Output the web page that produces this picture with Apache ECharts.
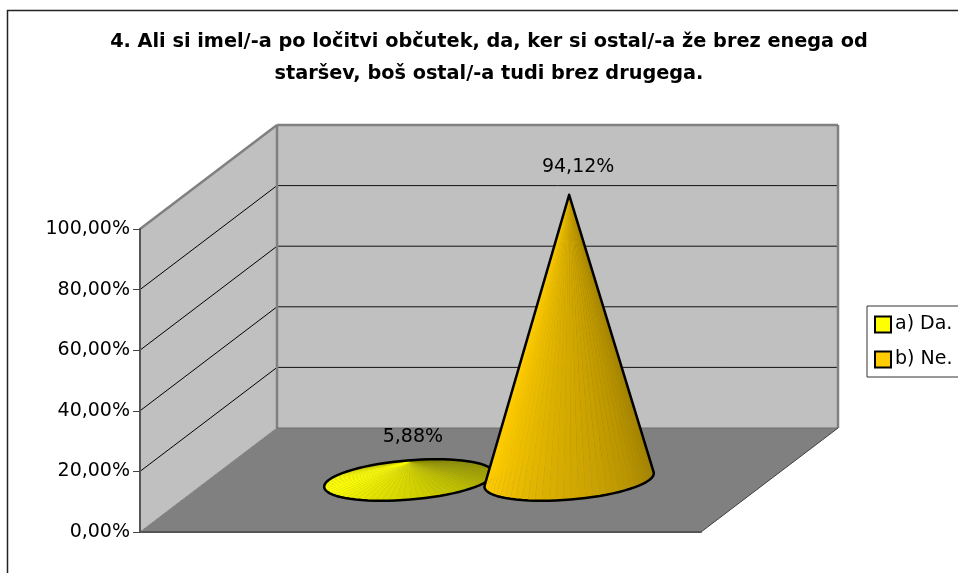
<!DOCTYPE html>
<html><head><meta charset="utf-8">
<style>html,body{margin:0;padding:0;background:#fff;overflow:hidden}#c{width:958px;height:573px}</style>
<script src="https://cdn.jsdelivr.net/npm/echarts@6/dist/echarts.min.js"></script>
</head><body><div id="c"></div>
<script>
const titleLines = ['4. Ali si imel/-a po ločitvi občutek, da, ker si ostal/-a že brez enega od', 'staršev, boš ostal/-a tudi brez drugega.'];
const categories = [''];
const seriesNames = ['a) Da.', 'b) Ne.'];
const valuesDa = [5.88];
const valuesNe = [94.12];
const tickValues = [0, 20, 40, 60, 80, 100];

const FONT = '"DejaVu Sans"';
const depth = [137, -104];
const shadeStops = [[0, .66], [90, .5], [180, 1], [215, 1], [270, .87], [330, .74], [360, .66]];
const fmt = v => v.toFixed(2).replace('.', ',') + '%';

function shade(deg) {
  deg = ((deg % 360) + 360) % 360;
  for (let i = 1; i < shadeStops.length; i++) {
    if (deg <= shadeStops[i][0]) {
      const a = shadeStops[i - 1], b = shadeStops[i];
      return a[1] + (b[1] - a[1]) * (deg - a[0]) / (b[0] - a[0]);
    }
  }
  return 1;
}
function hull(pts) {
  const p = pts.slice().sort((a, b) => a[0] - b[0] || a[1] - b[1]);
  const cross = (o, a, b) => (a[0] - o[0]) * (b[1] - o[1]) - (a[1] - o[1]) * (b[0] - o[0]);
  const lo = [], up = [];
  for (const q of p) { while (lo.length > 1 && cross(lo[lo.length - 2], lo[lo.length - 1], q) <= 0) lo.pop(); lo.push(q); }
  for (const q of p.slice().reverse()) { while (up.length > 1 && cross(up[up.length - 2], up[up.length - 1], q) <= 0) up.pop(); up.push(q); }
  return lo.slice(0, -1).concat(up.slice(0, -1));
}
function renderScene(params, api) {
  const mid = api.coord([0, 0]);
  const w = api.size([1, 0])[0];
  const x0 = mid[0] - w / 2, x1 = mid[0] + w / 2, y0 = mid[1];
  const yTop = api.coord([0, 100])[1];
  const dx = depth[0], dy = depth[1];
  const kids = [];
  const poly = (points, fill) => kids.push({ type: 'polygon', shape: { points }, style: { fill } });
  const line = (a, b, stroke, lw) => kids.push({ type: 'polyline', shape: { points: [a, b] }, style: { fill: 'none', stroke, lineWidth: lw } });
  poly([[x0 + dx, y0 + dy], [x1 + dx, y0 + dy], [x1, y0], [x0, y0]], '#808080');
  poly([[x0, y0], [x0 + dx, y0 + dy], [x0 + dx, yTop + dy], [x0, yTop]], '#c0c0c0');
  poly([[x0 + dx, y0 + dy], [x1 + dx, y0 + dy], [x1 + dx, yTop + dy], [x0 + dx, yTop + dy]], '#c0c0c0');
  tickValues.slice(1, -1).forEach(t => {
    const y = api.coord([0, t])[1];
    line([x0, y], [x0 + dx, y + dy], '#000', 1);
    line([x0 + dx, y + dy], [x1 + dx, y + dy], '#111', 1);
  });
  line([x0, yTop], [x0 + dx, yTop + dy], '#808080', 2.5);
  line([x0 + dx, yTop + dy], [x1 + dx, yTop + dy], '#808080', 2.5);
  line([x0 + dx, yTop + dy], [x0 + dx, y0 + dy], '#808080', 2.5);
  line([x1 + dx, yTop + dy], [x1 + dx, y0 + dy], '#808080', 2.5);
  line([x0 + dx, y0 + dy], [x1 + dx, y0 + dy], '#6e6e6e', 1);
  line([x0, y0], [x0 + dx, y0 + dy], '#808080', 1);
  line([x1, y0], [x1 + dx, y0 + dy], '#404040', 1);
  return { type: 'group', children: kids };
}
function coneRenderer(index, rgb, labelOffset) {
  return function (params, api) {
    const mid = api.coord([api.value(0), 0]);
    const w = api.size([1, 0])[0] / 3.5;
    const cx = mid[0] + (index - .5) * w + depth[0] / 2;
    const cy = mid[1] + depth[1] / 2;
    const top = api.coord([api.value(0), api.value(1)]);
    const apex = [cx, top[1] + depth[1] / 2];
    const ux = w / 2, vx = depth[0] * .2, vy = depth[1] * .2;
    const N = 72, facets = [], rim = [];
    for (let i = 0; i < N; i++) {
      const a = i / N * 2 * Math.PI, b = (i + 1) / N * 2 * Math.PI;
      const P = t => [cx + ux * Math.cos(t) + vx * Math.sin(t), cy + vy * Math.sin(t)];
      rim.push(P(a));
      facets.push({ a, P: [P(a), P(b)] });
    }
    facets.sort((f, g) => Math.sin(g.a) - Math.sin(f.a));
    const kids = facets.map(f => {
      const s = shade((f.a + Math.PI / N) * 180 / Math.PI);
      const c = 'rgb(' + rgb.map(v => Math.round(v * s)).join(',') + ')';
      return { type: 'polygon', shape: { points: [apex, f.P[0], f.P[1]] }, style: { fill: c, stroke: c, lineWidth: .2 } };
    });
    kids.push({ type: 'polygon', shape: { points: hull(rim.concat([apex])) }, style: { fill: 'none', stroke: '#000', lineWidth: 2.5, lineJoin: 'round' } });
    kids.push({ type: 'text', style: { text: fmt(api.value(1)), x: apex[0] + labelOffset[0], y: apex[1] + labelOffset[1], align: 'center', verticalAlign: 'middle', fill: '#000', font: '19px ' + FONT } });
    return { type: 'group', children: kids };
  };
}
const chart = echarts.init(document.getElementById('c'), null, { renderer: 'canvas' });
chart.setOption({
  animation: false,
  backgroundColor: '#fff',
  title: { text: titleLines.join('\n'), left: 484, top: 21, textAlign: 'center',
    textStyle: { fontFamily: FONT, fontWeight: 'bold', fontSize: 19.3, lineHeight: 32, color: '#000' } },
  grid: { left: 140, top: 229, width: 561, height: 303, containLabel: false },
  xAxis: { type: 'category', data: categories, axisTick: { show: false }, axisLabel: { show: false }, z: 6,
    axisLine: { lineStyle: { color: '#555', width: 2 } } },
  yAxis: { type: 'value', min: 0, max: 100, interval: 20, z: 6, splitLine: { show: false },
    axisLine: { show: true, lineStyle: { color: '#555', width: 2 } },
    axisTick: { show: true, length: 7, lineStyle: { color: '#444', width: 1 } },
    axisLabel: { formatter: fmt, margin: 10, color: '#000', fontFamily: FONT, fontSize: 19 } },
  legend: { data: seriesNames, orient: 'vertical', left: 867, top: 306, padding: [9, 16, 8, 7], itemGap: 16,
    itemWidth: 16, itemHeight: 16, icon: 'rect', borderColor: '#333', borderWidth: 1, backgroundColor: '#fff',
    itemStyle: { borderColor: '#000', borderWidth: 2 },
    textStyle: { fontFamily: FONT, fontSize: 19, color: '#000', padding: [0, 0, 0, -1] } },
  graphic: [{ type: 'polyline', silent: true, shape: { points: [[7.5, 573], [7.5, 10.5], [958, 10.5]] }, style: { fill: 'none', stroke: '#222', lineWidth: 1.5 } }],
  series: [
    { type: 'custom', name: 'scene', silent: true, z: 1, data: [[0, 0]], renderItem: renderScene, encode: { x: 0, y: 1 } },
    { type: 'custom', name: seriesNames[0], z: 3, itemStyle: { color: '#ffff00' }, data: valuesDa.map((v, i) => [i, v]), renderItem: coneRenderer(0, [255, 255, 0], [4, -25]), encode: { x: 0, y: 1 } },
    { type: 'custom', name: seriesNames[1], z: 4, itemStyle: { color: '#ffcc00' }, data: valuesNe.map((v, i) => [i, v]), renderItem: coneRenderer(1, [255, 204, 0], [9, -28]), encode: { x: 0, y: 1 } }
  ]
});
</script></body></html>
